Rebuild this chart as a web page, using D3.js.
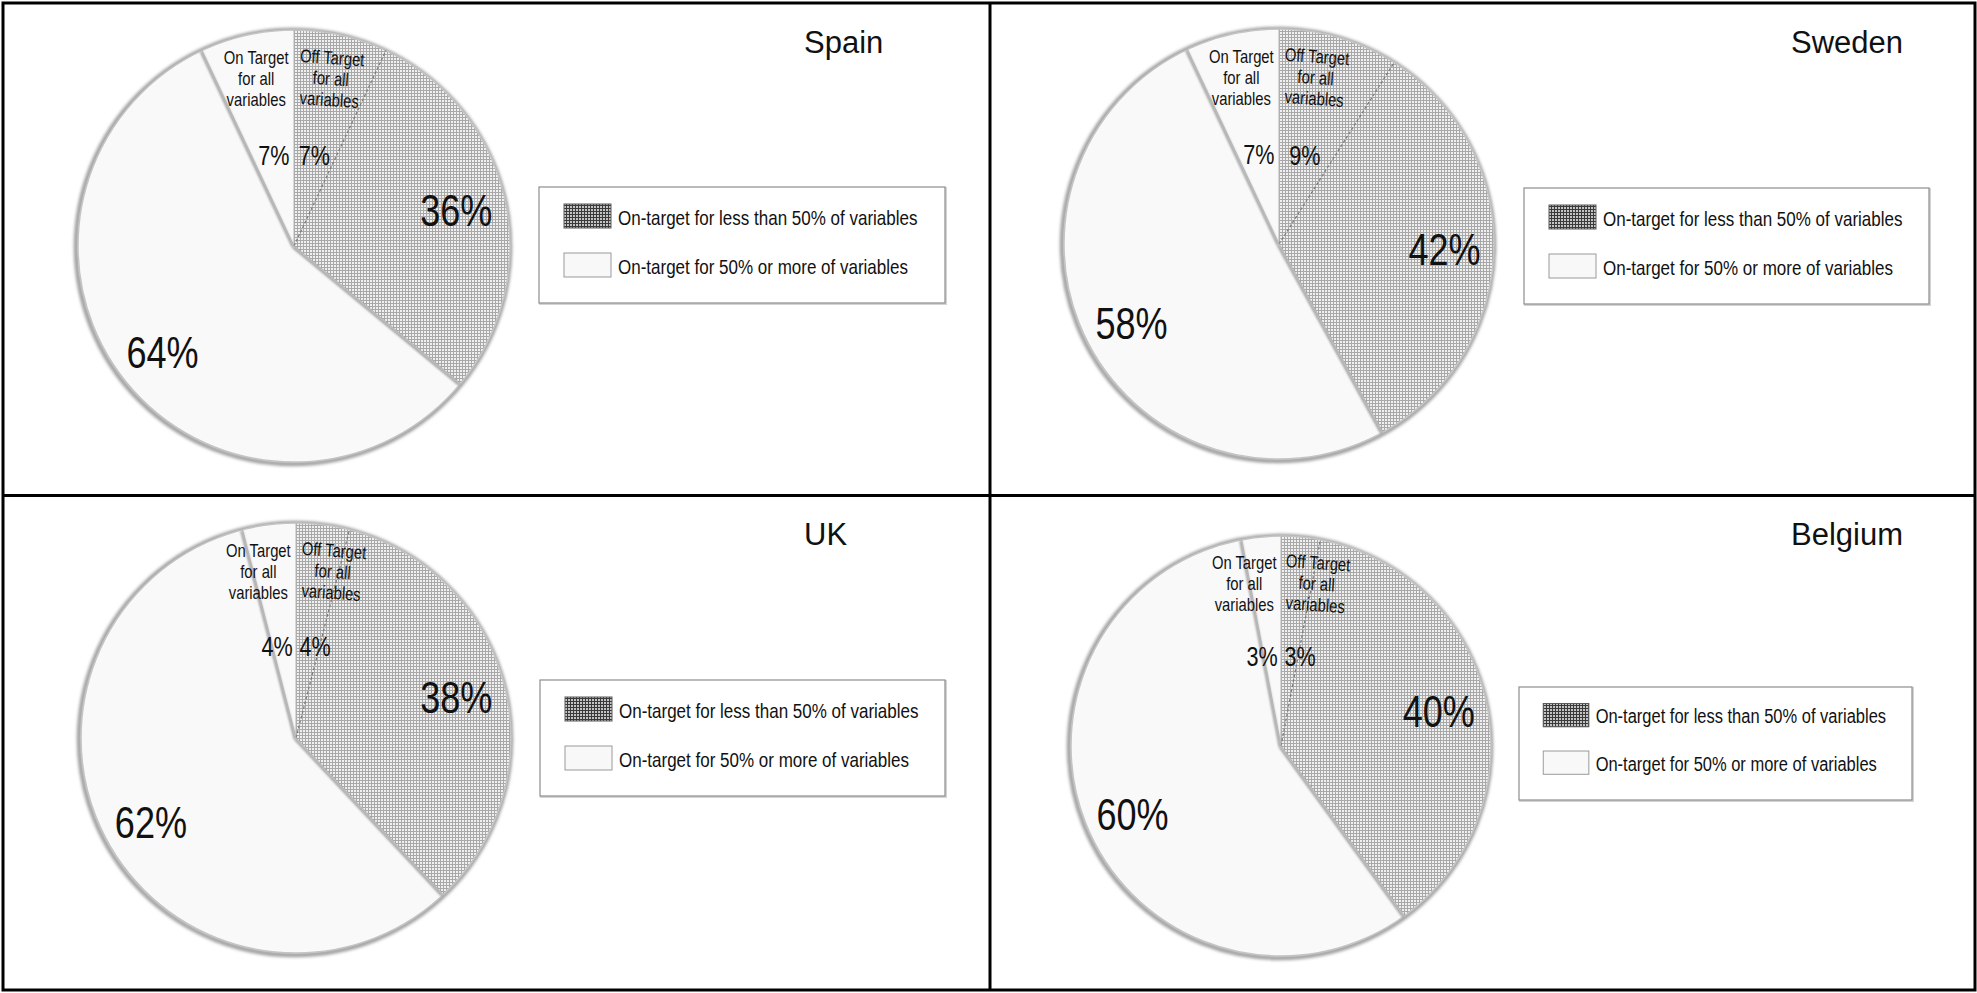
<!DOCTYPE html>
<html>
<head>
<meta charset="utf-8">
<script src="https://cdn.jsdelivr.net/npm/d3@7"></script>
<style>
  html, body { margin: 0; padding: 0; background: #ffffff; }
  svg { display: block; }
  text { font-family: "Liberation Sans", Arial, sans-serif; fill: #111; }
</style>
</head>
<body>
<svg id="chart" width="1977" height="993"></svg>
<script>
// ---------------- data ----------------
const countries     = ["Spain", "Sweden", "UK", "Belgium"];
const offTargetAll  = [7, 9, 4, 3];      // Off Target for all variables (%)
const lessThan50    = [36, 42, 38, 40];  // On-target for less than 50% of variables (%)
const onTargetAll   = [7, 7, 4, 3];      // On Target for all variables (%)
const fiftyOrMore   = [64, 58, 62, 60];  // On-target for 50% or more of variables (%)
const legendLabels  = ["On-target for less than 50% of variables",
                       "On-target for 50% or more of variables"];
const onTargetName  = ["On Target", "for all", "variables"];
const offTargetName = ["Off Target", "for all", "variables"];

// ---------------- layout (positions / styles only) ----------------
const W = 1977, H = 993;
const panels = [
  {x0: 3,   y0: 3,   cx: 294,  cy: 246, r: 216, lg: {x: 539,  y: 187, w: 406, h: 116, s: 1.0}},
  {x0: 990, y0: 3,   cx: 1279, cy: 244, r: 215, lg: {x: 1524, y: 188, w: 405, h: 116, s: 1.0}},
  {x0: 3,   y0: 495, cx: 296,  cy: 738, r: 215, lg: {x: 540,  y: 680, w: 405, h: 116, s: 1.0}},
  {x0: 990, y0: 495, cx: 1281, cy: 746, r: 210, lg: {x: 1519, y: 687, w: 393, h: 113, s: 0.97}}
];

const svg = d3.select("#chart");
const defs = svg.append("defs");

// light grid hatch for pie
const pl = defs.append("pattern").attr("id", "hatchLight")
  .attr("patternUnits", "userSpaceOnUse").attr("width", 3).attr("height", 3);
pl.append("rect").attr("width", 3).attr("height", 3).attr("fill", "#f0f0f0");
pl.append("rect").attr("width", 3).attr("height", 1).attr("fill", "#a8a8a8");
pl.append("rect").attr("width", 1).attr("height", 3).attr("fill", "#a8a8a8");

// dark grid hatch for legend swatch
const pd = defs.append("pattern").attr("id", "hatchDark")
  .attr("patternUnits", "userSpaceOnUse").attr("width", 3).attr("height", 3);
pd.append("rect").attr("width", 3).attr("height", 3).attr("fill", "#c4c4c4");
pd.append("rect").attr("width", 3).attr("height", 1).attr("fill", "#3a3a3a");
pd.append("rect").attr("width", 1).attr("height", 3).attr("fill", "#3a3a3a");

// soft rim shadow
const f = defs.append("filter").attr("id", "rimBlur")
  .attr("x", "-10%").attr("y", "-10%").attr("width", "120%").attr("height", "120%");
f.append("feGaussianBlur").attr("stdDeviation", 1.6);

const lf = defs.append("filter").attr("id", "lineBlur")
  .attr("x", "-20%").attr("y", "-20%").attr("width", "140%").attr("height", "140%");
lf.append("feGaussianBlur").attr("stdDeviation", 0.9);

// background
svg.append("rect").attr("width", W).attr("height", H).attr("fill", "#fff");

function ctext(g, x, y, str, size, sx, anchor, rot) {
  return g.append("text")
    .attr("transform", `translate(${x},${y}) rotate(${rot || 0}) scale(${sx},1)`)
    .attr("text-anchor", anchor || "middle")
    .style("font-size", size + "px")
    .text(str);
}

const pie = d3.pie().sort(null).value(d => d.v);
const fills = ["url(#hatchLight)", "url(#hatchLight)", "#f9f9f9", "#f9f9f9"];

countries.forEach((name, i) => {
  const P = panels[i];
  const g = svg.append("g");
  const slices = [
    {k: "off",  v: offTargetAll[i]},
    {k: "less", v: lessThan50[i] - offTargetAll[i]},
    {k: "more", v: fiftyOrMore[i] - onTargetAll[i]},
    {k: "on",   v: onTargetAll[i]}
  ];
  const arcs = pie(slices);
  const arc = d3.arc().innerRadius(0).outerRadius(P.r);
  const pg = g.append("g").attr("transform", `translate(${P.cx},${P.cy})`);

  // rim shadow
  pg.append("circle").attr("r", P.r + 1).attr("cx", -1).attr("cy", 1)
    .attr("fill", "none").attr("stroke", "#a0a0a0").attr("stroke-width", 4.5)
    .attr("filter", "url(#rimBlur)");

  pg.selectAll("path.slice").data(arcs).join("path")
    .attr("class", "slice")
    .attr("d", arc)
    .attr("fill", (d, j) => fills[j])
    .attr("stroke", "none");

  pg.append("circle").attr("r", P.r).attr("fill", "none")
    .attr("stroke", "#c4c4c4").attr("stroke-width", 1.5);

  // radial boundaries
  const radial = a => [P.r * Math.sin(a), -P.r * Math.cos(a)];
  arcs.forEach((d, j) => {
    const [x, y] = radial(d.startAngle);
    if (j === 1) {
      pg.append("line").attr("x1", 0).attr("y1", 0).attr("x2", x).attr("y2", y)
        .attr("stroke", "#7a7a7a").attr("stroke-width", 1.2).attr("stroke-dasharray", "3,2");
    } else {
      pg.append("line").attr("x1", -1).attr("y1", 1).attr("x2", x - 1).attr("y2", y + 1)
        .attr("stroke", "#9a9a9a").attr("stroke-width", 2.5).attr("filter", "url(#lineBlur)");
      pg.append("line").attr("x1", 0).attr("y1", 0).attr("x2", x).attr("y2", y)
        .attr("stroke", "#b5b5b5").attr("stroke-width", 1);
    }
  });

  // big labels (totals) at centroids of the remainder wedges
  const bigArc = d3.arc().innerRadius(P.r * 0.77).outerRadius(P.r * 0.77);
  const big = [[arcs[1], lessThan50[i]], [arcs[2], fiftyOrMore[i]]];
  big.forEach(([d, val], j) => {
    const [x, y] = bigArc.centroid(d);
    ctext(pg, x, y + 16 + j * 4, val + "%", 44, 0.82, "middle");
  });

  // small % labels
  const smallArc = d3.arc().innerRadius(P.r * 0.43).outerRadius(P.r * 0.43);
  [[arcs[3], onTargetAll[i], -1], [arcs[0], offTargetAll[i], 1]].forEach(([d, val, side]) => {
    let [x, y] = smallArc.centroid(d);
    const minOff = 19;
    if (Math.abs(x) < minOff) x = side * minOff;
    ctext(pg, x, y + 10, val + "%", 27, 0.8, "middle");
  });

  // wedge names
  const nameArc = d3.arc().innerRadius(P.r * 0.86).outerRadius(P.r * 0.86);
  [[onTargetName, -1, 0], [offTargetName, 1, 4]].forEach(([lines, side, rot]) => {
    const ang = side * 0.205;
    const [x, y] = nameArc.centroid({startAngle: ang, endAngle: ang});
    const tg = pg.append("g").attr("transform", `translate(${x},${y}) rotate(${rot})`);
    lines.forEach((t, li) => ctext(tg, 0, li * 21, t, 18.5, 0.8, "middle"));
  });

  // title
  g.append("text").attr("x", P.x0 + 801).attr("y", P.y0 + 49.5)
    .style("font-size", "31px").text(name);

  // legend
  const L = P.lg;
  const lg = g.append("g").attr("transform", `translate(${L.x},${L.y})`);
  lg.append("rect").attr("x", 1).attr("y", 1).attr("width", L.w).attr("height", L.h)
    .attr("fill", "none").attr("stroke", "#d4d4d4").attr("stroke-width", 2);
  lg.append("rect").attr("width", L.w).attr("height", L.h)
    .attr("fill", "#fff").attr("stroke", "#8e8e8e").attr("stroke-width", 1.2);
  const sw = [{fill: "url(#hatchDark)", stroke: "#5a5a5a"}, {fill: "#f8f8f8", stroke: "#9a9a9a"}];
  legendLabels.forEach((lab, k) => {
    const sy = (17 + k * 49) * L.s;
    lg.append("rect").attr("x", 25 * L.s).attr("y", sy).attr("width", 47 * L.s).attr("height", 24 * L.s)
      .attr("fill", sw[k].fill).attr("stroke", sw[k].stroke).attr("stroke-width", 1);
    ctext(lg, 79 * L.s, sy + 20.5 * L.s, lab, 21 * L.s, 0.81, "start");
  });
});

// table grid borders
const grid = svg.append("g").attr("stroke", "#000").attr("stroke-width", 3).attr("fill", "none");
grid.append("rect").attr("x", 3).attr("y", 3).attr("width", 1972).attr("height", 987);
grid.append("line").attr("x1", 990).attr("y1", 3).attr("x2", 990).attr("y2", 990);
grid.append("line").attr("x1", 3).attr("y1", 495.5).attr("x2", 1975).attr("y2", 495.5);
</script>
</body>
</html>
